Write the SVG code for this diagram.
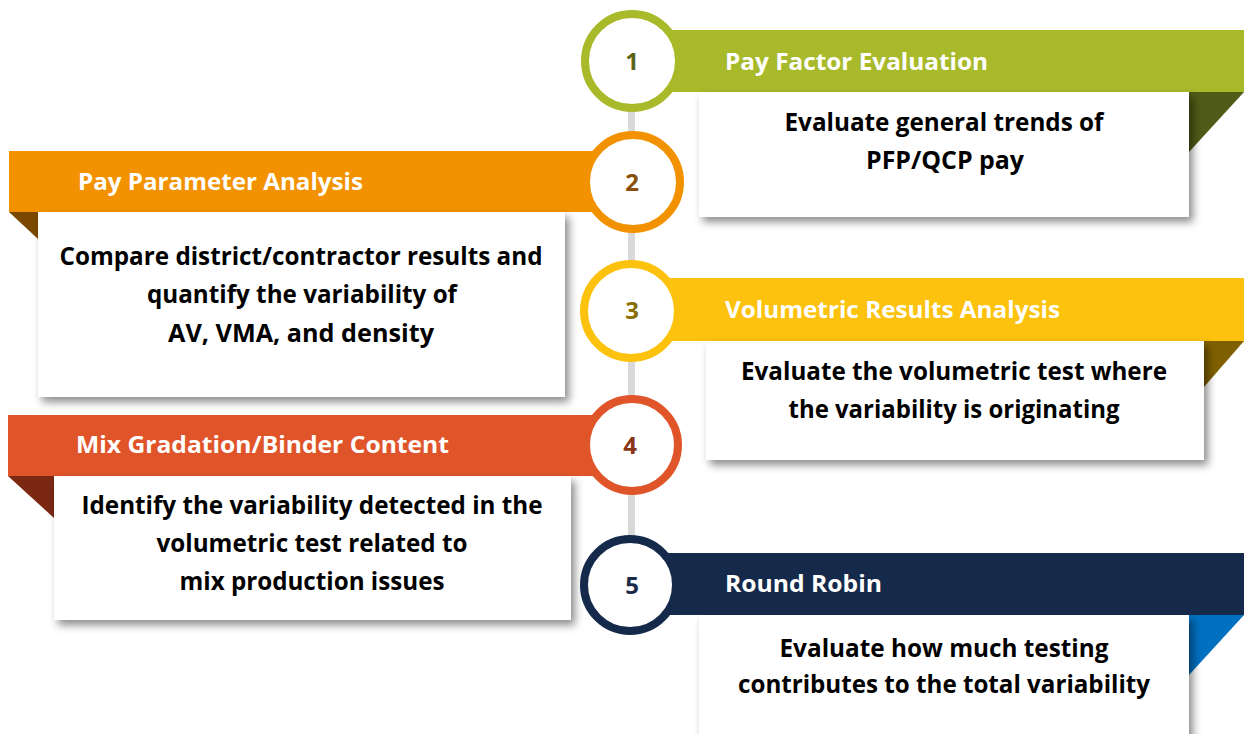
<svg xmlns="http://www.w3.org/2000/svg" width="1244" height="734" viewBox="0 0 1244 734">
<defs>
<filter id="sh" x="-10%" y="-10%" width="130%" height="140%">
<feDropShadow dx="4" dy="5" stdDeviation="4" flood-color="#000" flood-opacity="0.45"/>
</filter>
</defs>
<style>
.title{font-family:"Open Sans","Liberation Sans",sans-serif;font-weight:bold;font-size:24px;fill:#ffffff}
.body{font-family:"Open Sans","Liberation Sans",sans-serif;font-weight:bold;font-size:25px;fill:#000000;text-anchor:middle}
.num{font-family:"Open Sans","Liberation Sans",sans-serif;font-weight:bold;font-size:24px;text-anchor:middle}
.box{fill:#ffffff;filter:url(#sh)}
.ring{fill:#ffffff;stroke-width:8}
</style>
<rect width="1244" height="734" fill="#ffffff"/>
<g id="connectors">
<rect x="628" y="61" width="7" height="524" fill="#d9d9d9"/>
</g>
<g id="step1">
<rect x="632" y="30" width="612" height="62" fill="#a8b92a"/>
<polygon points="1189,92 1244,92 1189,152" fill="#4f5b16"/>
<rect class="box" x="699" y="92" width="490" height="125"/>
<circle class="ring" cx="632" cy="61" r="47" stroke="#a8b92a"/>
<text class="num" x="632" y="70" fill="#5a6414">1</text>
<text class="title" x="725" y="70" textLength="263" lengthAdjust="spacingAndGlyphs">Pay Factor Evaluation</text>
<text class="body" x="944" y="131" textLength="319" lengthAdjust="spacingAndGlyphs">Evaluate general trends of</text>
<text class="body" x="945" y="169" textLength="158" lengthAdjust="spacingAndGlyphs">PFP/QCP pay</text>
</g>
<g id="step2">
<rect x="9" y="151" width="623" height="61" fill="#f39200"/>
<polygon points="9,212 38,212 38,239" fill="#7a4800"/>
<rect class="box" x="38" y="212" width="527" height="185"/>
<circle class="ring" cx="633" cy="182" r="47" stroke="#f39200"/>
<text class="num" x="632" y="191" fill="#8a4f0a">2</text>
<text class="title" x="78" y="190" textLength="285" lengthAdjust="spacingAndGlyphs">Pay Parameter Analysis</text>
<text class="body" x="301" y="265" textLength="483" lengthAdjust="spacingAndGlyphs">Compare district/contractor results and</text>
<text class="body" x="302" y="303" textLength="310" lengthAdjust="spacingAndGlyphs">quantify the variability of</text>
<text class="body" x="301" y="342" textLength="266" lengthAdjust="spacingAndGlyphs">AV, VMA, and density</text>
</g>
<g id="step3">
<rect x="632" y="278" width="612" height="63" fill="#fcc20e"/>
<polygon points="1204,341 1244,341 1204,387" fill="#7f6000"/>
<rect class="box" x="706" y="341" width="498" height="119"/>
<circle class="ring" cx="631" cy="311" r="47" stroke="#fcc20e"/>
<text class="num" x="632" y="319" fill="#8a6d00">3</text>
<text class="title" x="725" y="318" textLength="335" lengthAdjust="spacingAndGlyphs">Volumetric Results Analysis</text>
<text class="body" x="954" y="380" textLength="426" lengthAdjust="spacingAndGlyphs">Evaluate the volumetric test where</text>
<text class="body" x="954" y="418" textLength="331" lengthAdjust="spacingAndGlyphs">the variability is originating</text>
</g>
<g id="step4">
<rect x="8" y="415" width="624" height="61" fill="#e0542a"/>
<polygon points="8,476 54,476 54,518" fill="#7a2812"/>
<rect class="box" x="54" y="476" width="517" height="144"/>
<circle class="ring" cx="632" cy="445" r="46" stroke="#e0542a"/>
<text class="num" x="630" y="454" fill="#8a3518">4</text>
<text class="title" x="76" y="453" textLength="373" lengthAdjust="spacingAndGlyphs">Mix Gradation/Binder Content</text>
<text class="body" x="312" y="514" textLength="461" lengthAdjust="spacingAndGlyphs">Identify the variability detected in the</text>
<text class="body" x="312" y="552" textLength="311" lengthAdjust="spacingAndGlyphs">volumetric test related to</text>
<text class="body" x="312" y="590" textLength="265" lengthAdjust="spacingAndGlyphs">mix production issues</text>
</g>
<g id="step5">
<rect x="632" y="553" width="612" height="62" fill="#15294b"/>
<polygon points="1189,615 1244,615 1189,675" fill="#0070c0"/>
<rect class="box" x="699" y="615" width="490" height="130"/>
<circle class="ring" cx="630" cy="585" r="46" stroke="#15294b"/>
<text class="num" x="632" y="594" fill="#1a2a4a">5</text>
<text class="title" x="725" y="592" textLength="157" lengthAdjust="spacingAndGlyphs">Round Robin</text>
<text class="body" x="944" y="657" textLength="329" lengthAdjust="spacingAndGlyphs">Evaluate how much testing</text>
<text class="body" x="944" y="693" textLength="412" lengthAdjust="spacingAndGlyphs">contributes to the total variability</text>
</g>
</svg>
